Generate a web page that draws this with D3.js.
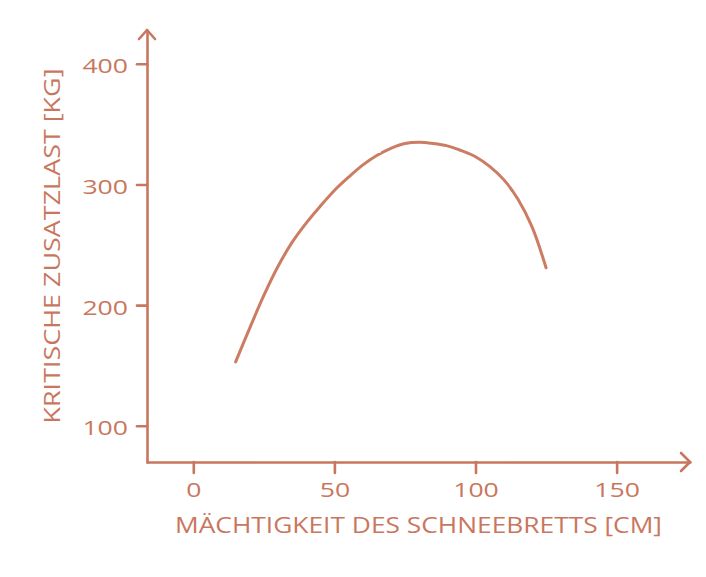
<!DOCTYPE html>
<html>
<head>
<meta charset="utf-8">
<script src="https://cdn.jsdelivr.net/npm/d3@7"></script>
<style>
  body { margin: 0; background: #fff; }
  text { font-family: "Open Sans", sans-serif; fill: #c8775e; }
  .domain, .tick line { stroke: #c8775e; stroke-width: 2.6; stroke-linecap: round; stroke-linejoin: round; }
  .line { fill: none; stroke: #cb7c62; stroke-width: 3; stroke-linecap: round; }
</style>
</head>
<body>
<div id="chart"></div>
<script>
const thickness = [15, 20, 25, 30, 35, 40, 45, 50, 55, 60, 65, 70, 75, 80,
  85, 90, 95, 100, 105, 110, 115, 120, 125];
const load = [153, 181, 208, 232, 252, 268, 282, 295, 306, 316, 324, 330, 334, 335,
  334, 332, 328, 323, 315, 304, 288, 265, 231];
const xTicks = [0, 50, 100, 150];
const yTicks = [100, 200, 300, 400];
const xTitle = "MÄCHTIGKEIT DES SCHNEEBRETTS [CM]";
const yTitle = "KRITISCHE ZUSATZLAST [KG]";

const data = thickness.map((t, i) => ({ x: t, y: load[i] }));

const width = 706, height = 577;
const color = "#c8775e";

const x = d3.scaleLinear().domain([-16.4, 176]).range([147, 690]);
const y = d3.scaleLinear().domain([70, 428]).range([462, 30]);

const svg = d3.select("#chart").append("svg")
  .attr("width", width)
  .attr("height", height);

// wobbly pen look
const defs = svg.append("defs");
const f = defs.append("filter").attr("id", "wobble")
  .attr("filterUnits", "userSpaceOnUse")
  .attr("color-interpolation-filters", "sRGB")
  .attr("x", -300).attr("y", -300).attr("width", 1400).attr("height", 1200);
f.append("feTurbulence").attr("type", "fractalNoise")
  .attr("baseFrequency", 0.07).attr("numOctaves", 1).attr("seed", 5).attr("result", "n");
f.append("feDisplacementMap").attr("in", "SourceGraphic").attr("in2", "n")
  .attr("scale", 1.8).attr("xChannelSelector", "R").attr("yChannelSelector", "G");

const gx = svg.append("g")
  .attr("transform", "translate(0," + y.range()[0] + ")")
  .call(d3.axisBottom(x).tickValues(xTicks).tickSize(11).tickSizeOuter(0).tickPadding(10));

const gy = svg.append("g")
  .attr("transform", "translate(" + x.range()[0] + ",0)")
  .call(d3.axisLeft(y).tickValues(yTicks).tickSize(10).tickSizeOuter(0).tickPadding(9));

[gx, gy].forEach(g => {
  g.select(".domain").attr("filter", "url(#wobble)");
  g.selectAll(".tick line").attr("filter", "url(#wobble)");
  g.selectAll(".tick text")
    .style("font-size", "20px")
    .attr("fill", color)
    .each(function () {
      const w = this.getComputedTextLength();
      d3.select(this).attr("textLength", w * 1.33).attr("lengthAdjust", "spacingAndGlyphs");
    });
});
gy.selectAll(".tick text").attr("dy", "0.45em");

// arrow heads
const x1 = x.range()[1], y0 = y.range()[0];
const xl = x.range()[0], yt = y.range()[1];
svg.append("path")
  .attr("class", "domain")
  .attr("fill", "none")
  .attr("filter", "url(#wobble)")
  .attr("d", `M${x1 - 9},${y0 - 9}L${x1},${y0}L${x1 - 9},${y0 + 9}`);
svg.append("path")
  .attr("class", "domain")
  .attr("fill", "none")
  .attr("filter", "url(#wobble)")
  .attr("d", `M${xl - 8},${yt + 9}L${xl},${yt}L${xl + 8},${yt + 9}`);

const line = d3.line()
  .x(d => x(d.x))
  .y(d => y(d.y))
  .curve(d3.curveCatmullRom);

svg.append("path")
  .datum(data)
  .attr("class", "line")
  .attr("filter", "url(#wobble)")
  .attr("d", line);

// axis titles
svg.append("text")
  .attr("x", (x.range()[0] + x.range()[1]) / 2)
  .attr("y", 533)
  .attr("text-anchor", "middle")
  .style("font-size", "22px")
  .attr("textLength", 487)
  .attr("lengthAdjust", "spacingAndGlyphs")
  .text(xTitle);

svg.append("text")
  .attr("transform", "translate(60," + (y.range()[0] + y.range()[1]) / 2 + ") rotate(-90)")
  .attr("text-anchor", "middle")
  .style("font-size", "21px")
  .attr("textLength", 355)
  .attr("lengthAdjust", "spacingAndGlyphs")
  .text(yTitle);
</script>
</body>
</html>
